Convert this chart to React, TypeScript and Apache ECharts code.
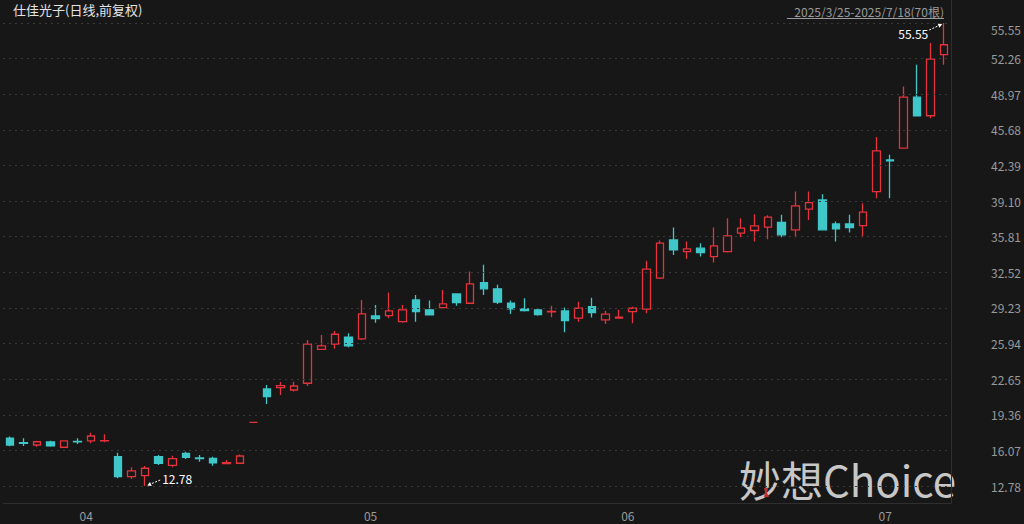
import React, { useEffect, useRef } from 'react';
import * as echarts from 'echarts';

const dates = [
  '2025-03-25', '2025-03-26', '2025-03-27', '2025-03-28', '2025-03-31',
  '2025-04-01', '2025-04-02', '2025-04-03', '2025-04-07', '2025-04-08', '2025-04-09', '2025-04-10', '2025-04-11',
  '2025-04-14', '2025-04-15', '2025-04-16', '2025-04-17', '2025-04-18', '2025-04-21', '2025-04-22', '2025-04-23',
  '2025-04-24', '2025-04-25', '2025-04-28', '2025-04-29', '2025-04-30',
  '2025-05-06', '2025-05-07', '2025-05-08', '2025-05-09', '2025-05-12', '2025-05-13', '2025-05-14', '2025-05-15',
  '2025-05-16', '2025-05-19', '2025-05-20', '2025-05-21', '2025-05-22', '2025-05-23', '2025-05-26', '2025-05-27',
  '2025-05-28', '2025-05-29', '2025-05-30',
  '2025-06-03', '2025-06-04', '2025-06-05', '2025-06-06', '2025-06-09', '2025-06-10', '2025-06-11', '2025-06-12',
  '2025-06-13', '2025-06-16', '2025-06-17', '2025-06-18', '2025-06-19', '2025-06-20', '2025-06-23', '2025-06-24',
  '2025-06-25', '2025-06-26', '2025-06-27',
  '2025-07-01', '2025-07-02', '2025-07-03', '2025-07-04', '2025-07-07', '2025-07-08',
];

const opens = [
  17.19, 16.78, 16.57, 16.85, 16.36, 16.90, 16.94, 16.95, 15.49, 13.64,
  13.73, 15.49, 14.69, 15.80, 15.37, 15.34, 14.85, 14.88, 18.66, 21.74,
  21.87, 21.65, 22.27, 25.41, 25.88, 26.52, 26.37, 28.49, 28.52, 27.96,
  29.97, 29.05, 29.26, 30.52, 29.66, 31.57, 30.99, 29.66, 29.14, 29.05,
  28.86, 28.95, 28.28, 29.35, 28.12, 28.30, 28.89, 29.11, 31.98, 35.51,
  34.43, 34.75, 33.97, 34.43, 36.14, 36.38, 36.69, 37.12, 36.44, 38.35,
  39.21, 36.99, 36.99, 36.84, 39.98, 42.90, 43.99, 48.70, 46.98, 52.62,
];
const closes = [
  16.57, 16.72, 16.87, 16.50, 16.94, 16.85, 17.40, 16.98, 13.64, 14.17,
  14.42, 14.88, 15.30, 15.43, 15.32, 14.93, 14.93, 15.55, 18.66, 21.03,
  22.05, 22.02, 25.88, 25.72, 26.80, 25.72, 28.68, 28.24, 28.95, 29.05,
  28.89, 28.58, 29.60, 29.72, 31.45, 30.99, 29.76, 29.14, 28.98, 28.62,
  28.92, 28.06, 29.20, 28.80, 28.65, 28.37, 29.20, 32.81, 35.21, 34.59,
  34.68, 34.34, 34.96, 35.88, 36.60, 36.81, 37.61, 35.98, 38.66, 38.96,
  36.44, 36.53, 36.65, 38.08, 43.74, 42.82, 48.70, 46.98, 52.22, 53.54,
];
const lows = [
  16.45, 16.48, 16.41, 16.41, 16.28, 16.66, 16.72, 16.82, 13.50, 13.43,
  12.78, 14.73, 14.51, 15.27, 15.03, 14.65, 14.82, 14.82, 18.66, 20.36,
  21.19, 21.50, 22.02, 25.35, 25.47, 25.60, 26.27, 27.87, 28.28, 27.87,
  27.96, 28.55, 29.20, 29.44, 29.60, 30.43, 29.60, 28.68, 28.89, 28.50,
  28.37, 26.98, 27.96, 28.34, 27.75, 28.28, 27.81, 28.74, 31.91, 34.13,
  33.76, 33.97, 33.42, 34.34, 35.77, 35.36, 35.58, 35.77, 35.77, 37.36,
  36.38, 35.36, 36.20, 35.77, 39.37, 39.37, 43.93, 46.91, 46.76, 51.69,
];
const highs = [
  17.35, 17.19, 16.97, 16.97, 16.99, 17.19, 17.71, 17.56, 15.86, 14.51,
  14.62, 15.65, 15.58, 15.95, 15.65, 15.49, 15.18, 15.70, 18.66, 22.11,
  22.39, 22.42, 26.27, 26.74, 27.11, 26.89, 29.97, 29.51, 30.65, 29.51,
  30.43, 29.91, 30.89, 30.55, 32.59, 33.21, 31.36, 29.91, 30.13, 29.20,
  29.42, 29.26, 29.81, 30.18, 28.98, 29.05, 29.35, 33.58, 35.45, 36.65,
  35.36, 35.21, 36.65, 37.52, 37.52, 37.89, 37.80, 37.83, 39.98, 39.98,
  39.74, 37.21, 37.83, 38.91, 45.01, 43.37, 49.69, 51.69, 53.70, 55.55,
];

const tickValues = [
  12.78, 16.07, 19.36, 22.65, 25.94, 29.23, 32.52,
  35.81, 39.10, 42.39, 45.68, 48.97, 52.26, 55.55,
];

const titleText = '仕佳光子(日线,前复权)';
const rangeText = '2025/3/25-2025/7/18(70根)';
const watermarkText = '妙想Choice';

const BG = '#171717';
const UP = '#e5323c';
const DOWN = '#3fc7c9';
const FONT = '"Noto Sans CJK SC", "Noto Sans", sans-serif';

function arrow(x1: number, y1: number, x2: number, y2: number) {
  const dx = x2 - x1;
  const dy = y2 - y1;
  const len = Math.sqrt(dx * dx + dy * dy) || 1;
  const ux = dx / len;
  const uy = dy / len;
  const size = 4;
  const bx = x2 - ux * size;
  const by = y2 - uy * size;
  const px = -uy * 2.2;
  const py = ux * 2.2;
  return [
    {
      type: 'line',
      shape: { x1, y1, x2: bx, y2: by },
      style: { stroke: '#ffffff', lineWidth: 1, lineDash: [2, 1.5] },
      silent: true,
    },
    {
      type: 'polygon',
      shape: { points: [[x2, y2], [bx + px, by + py], [bx - px, by - py]] },
      style: { fill: '#ffffff' },
      silent: true,
    },
  ];
}

export default function App() {
  const ref = useRef<HTMLDivElement>(null);

  useEffect(() => {
    const chart = echarts.init(ref.current as HTMLDivElement, null, { renderer: 'svg' });
    const data = opens.map((o, i) => [o, closes[i], lows[i], highs[i]]);
    const yMin = 11.21;
    const yMax = Math.max(...highs);
    const lastTick = tickValues[tickValues.length - 1];

    chart.setOption({
      animation: false,
      backgroundColor: BG,
      textStyle: { fontFamily: FONT },
      grid: { left: 3, right: 73, top: 23, bottom: 21 },
      xAxis: {
        type: 'category',
        data: dates,
        boundaryGap: true,
        axisLine: { show: true, lineStyle: { color: '#2f2f2f' } },
        axisTick: { show: false },
        axisLabel: {
          interval: (i: number) => i > 0 && dates[i].slice(5, 7) !== dates[i - 1].slice(5, 7),
          formatter: (v: string) => v.slice(5, 7),
          color: '#9a9a9a',
          fontSize: 12,
          lineHeight: 12,
          align: 'left',
          padding: [0, 0, 0, 2],
          margin: 6,
        },
        splitLine: { show: false },
      },
      yAxis: {
        type: 'value',
        position: 'right',
        min: yMin,
        max: yMax,
        scale: true,
        axisLine: { show: true, lineStyle: { color: '#2f2f2f' } },
        axisTick: { show: false },
        axisLabel: { show: false },
        splitLine: { show: false },
      },
      series: [
        {
          type: 'candlestick',
          data,
          barWidth: 8,
          itemStyle: {
            color: BG,
            color0: DOWN,
            borderColor: UP,
            borderColor0: DOWN,
            borderColorDoji: UP,
            borderWidth: 1.3,
          },
          emphasis: { disabled: true },
          markLine: {
            silent: true,
            symbol: ['none', 'none'],
            animation: false,
            lineStyle: { color: '#3a3a3a', type: [2, 4], width: 1 },
            label: {
              position: 'end',
              color: '#9a9a9a',
              fontSize: 12,
              distance: 40,
              formatter: (p: any) =>
                Number(p.value) === lastTick
                  ? '\n' + Number(p.value).toFixed(2)
                  : Number(p.value).toFixed(2),
            },
            emphasis: { disabled: true },
            data: tickValues.map((v) => ({ yAxis: v })),
          },
        },
      ],
    });

    const maxH = Math.max(...highs);
    const maxI = highs.indexOf(maxH);
    const minL = Math.min(...lows);
    const minI = lows.indexOf(minL);
    const pMax = chart.convertToPixel({ xAxisIndex: 0, yAxisIndex: 0 }, [maxI, maxH]) as number[];
    const pMin = chart.convertToPixel({ xAxisIndex: 0, yAxisIndex: 0 }, [minI, minL]) as number[];

    chart.setOption({
      graphic: [
        {
          type: 'line',
          silent: true,
          shape: { x1: 951.5, y1: 0, x2: 951.5, y2: 23 },
          style: { stroke: '#2f2f2f', lineWidth: 1 },
        },
        {
          type: 'text',
          left: 13,
          top: 3,
          silent: true,
          style: { text: titleText, fill: '#e4e4e4', fontSize: 13, fontFamily: FONT },
        },
        {
          type: 'text',
          x: 944,
          y: 11,
          silent: true,
          style: {
            text: rangeText,
            fill: '#9a9a9a',
            fontSize: 12,
            fontFamily: FONT,
            align: 'right',
            verticalAlign: 'middle',
          },
        },
        {
          type: 'line',
          silent: true,
          shape: { x1: 787, y1: 18.5, x2: 944, y2: 18.5 },
          style: { stroke: '#9a9a9a', lineWidth: 1 },
        },
        {
          type: 'text',
          x: pMax[0] - 16,
          y: pMax[1] + 10,
          silent: true,
          style: {
            text: maxH.toFixed(2),
            fill: '#ffffff',
            fontSize: 12,
            fontFamily: FONT,
            align: 'right',
            verticalAlign: 'middle',
          },
        },
        ...arrow(pMax[0] - 15, pMax[1] + 7, pMax[0] - 2, pMax[1] + 1),
        {
          type: 'text',
          x: pMin[0] + 17,
          y: pMin[1] - 8,
          silent: true,
          style: {
            text: minL.toFixed(2),
            fill: '#ffffff',
            fontSize: 12,
            fontFamily: FONT,
            align: 'left',
            verticalAlign: 'middle',
          },
        },
        ...arrow(pMin[0] + 15, pMin[1] - 6, pMin[0] + 2, pMin[1] - 0.5),
        {
          type: 'text',
          x: 739,
          y: 478,
          silent: true,
          style: {
            text: watermarkText,
            fill: 'rgba(225,225,225,0.88)',
            fontSize: 42,
            lineHeight: 40,
            fontFamily: FONT,
            align: 'left',
            verticalAlign: 'middle',
          },
        },
        {
          type: 'polygon',
          silent: true,
          shape: { points: [[764, 488], [768, 488], [767, 493], [769, 497], [764, 497], [765, 492]] },
          style: { fill: '#c0302f' },
        },
      ],
    });

    return () => {
      chart.dispose();
    };
  }, []);

  return (
    <div
      ref={ref}
      style={{ position: 'fixed', left: 0, top: 0, width: 1024, height: 524 }}
    />
  );
}
